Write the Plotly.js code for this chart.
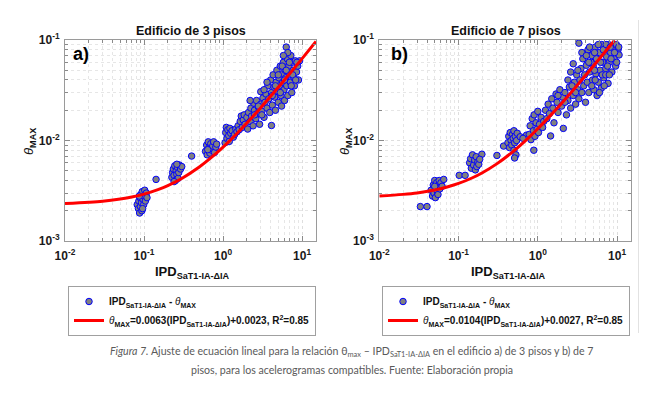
<!DOCTYPE html>
<html>
<head>
<meta charset="utf-8">
<script src="https://cdn.plot.ly/plotly-3.0.1.min.js"></script>
<style>html,body{margin:0;padding:0;background:#fff;}#chart{width:659px;height:398px;}</style>
</head>
<body>
<div id="chart"></div>
<script>
// ---------- DATA ----------
// Panel a) Edificio de 3 pisos : IPD vs theta_MAX
const ipdA = [
  0.082,0.085,0.086,0.088,0.089,0.090,0.091,0.093,0.094,0.095,0.097,0.099,0.100,0.102,0.104,0.107,0.109,0.087,0.096,
  0.142,
  0.225,0.23,0.235,0.24,0.245,0.25,0.255,0.26,0.265,0.27,0.275,0.28,0.29,0.30,0.24,0.26,
  0.40,
  0.60,0.62,0.63,0.65,0.66,0.68,0.70,0.72,0.74,0.76,0.78,0.81,0.83,0.64,
  1.06,1.08,1.10,1.12,1.15,1.18,1.20,1.22,1.25,1.30,1.35,1.40,1.45,1.5,
  1.55,1.6,1.65,1.7,1.75,1.8,1.85,1.9,2.0,2.05,2.1,2.2,2.25,2.3,2.4,2.45,2.5,2.6,2.65,2.7,2.8,2.9,3.0,3.0,3.1,3.2,3.3,3.4,3.5,3.6,
  3.7,3.8,3.9,4.0,4.1,4.1,4.2,4.3,4.4,4.5,4.6,4.7,4.8,4.9,5.0,5.1,5.2,5.3,5.4,5.5,5.6,5.7,5.8,5.9,6.0,6.1,6.2,6.3,6.4,6.5,6.6,6.8,6.8,7.0,7.1,7.2,7.4,7.5,7.7,7.9,8.0,8.2,8.5,8.8,9.0,9.3,11.2,
  3.3,3.6,4.2,4.6,5.0,5.3,5.6,6.0,6.3,6.9,7.3,7.6,8.3,2.5,2.8,3.1,2.2,6.6,5.8,8.6
];
const thetaA = [
  0.0023,0.0021,0.0025,0.0019,0.0027,0.0022,0.0029,0.0024,0.0020,0.0031,0.0026,0.0023,0.0028,0.0032,0.0025,0.0030,0.0027,0.0028,0.0021,
  0.0041,
  0.0043,0.0048,0.0052,0.0045,0.0056,0.0040,0.0050,0.0046,0.0054,0.0042,0.0048,0.0057,0.0052,0.0055,0.0039,0.0058,
  0.0070,
  0.0078,0.0090,0.0072,0.0097,0.0084,0.0075,0.0093,0.0080,0.0088,0.0097,0.0076,0.0086,0.0092,0.0081,
  0.0095,0.0120,0.0135,0.0105,0.0128,0.0112,0.0098,0.0132,0.0118,0.0125,0.0108,0.0115,0.0130,0.0122,
  0.0140,0.0128,0.0155,0.0175,0.0135,0.0160,0.0180,0.0145,0.0170,0.0130,0.0190,0.0155,0.0210,0.0175,0.0140,0.0235,0.0200,0.0165,0.0250,0.0185,0.0215,0.0145,0.0306,0.0230,0.0195,0.0265,0.0170,0.0240,0.0290,0.0210,
  0.0350,0.0260,0.0190,0.0400,0.0141,0.0300,0.0225,0.0450,0.0340,0.0270,0.0200,0.0380,0.0500,0.0310,0.0240,0.0420,0.0350,0.0550,0.0280,0.0220,0.0460,0.0380,0.0600,0.0320,0.0250,0.0500,0.0420,0.0850,0.0350,0.0650,0.0280,0.1000,0.0550,0.0450,0.0380,0.0700,0.0300,0.0600,0.0500,0.0420,0.0350,0.0620,0.0480,0.0550,0.0400,0.0620,0.1000,
  0.0320,0.0380,0.0280,0.0350,0.0450,0.0300,0.0550,0.0400,0.0500,0.0600,0.0350,0.0450,0.0400,0.0180,0.0220,0.0180,0.0250,0.0750,0.0700,0.0600
];
// fitted line a) theta = 0.0063 IPD + 0.0023 (points read along the red curve)
const fitXA = [0.01,0.02,0.03,0.05,0.07,0.1,0.15,0.2,0.3,0.5,0.7,1,1.5,2,3,5,7,10,15];
const fitYA = [0.00236,0.00243,0.00249,0.00262,0.00274,0.00293,0.00325,0.00356,0.00419,0.00545,0.00671,0.0086,0.01175,0.0149,0.0212,0.0338,0.0464,0.0653,0.0968];

// Panel b) Edificio de 7 pisos
const ipdB = [
  0.033,0.040,
  0.045,0.047,0.048,0.049,0.050,0.051,0.052,0.053,0.054,0.055,0.056,0.057,0.058,0.060,0.062,0.065,0.050,
  0.102,0.121,
  0.138,0.142,0.145,0.150,0.155,0.160,0.163,0.167,0.170,0.175,0.180,0.197,0.185,
  0.305,0.37,
  0.42,0.43,0.44,0.45,0.46,0.47,0.48,0.49,0.50,0.50,0.51,0.52,0.53,0.54,0.55,0.51,0.60,0.72,0.65,
  0.78,0.80,0.82,0.85,0.88,0.89,0.90,0.92,0.95,0.98,1.00,1.02,1.05,1.10,1.15,1.19,1.45,
  1.25,1.30,1.35,1.40,1.5,1.55,1.6,1.7,1.75,1.8,1.9,2.0,2.05,2.1,2.2,2.3,2.4,2.5,2.6,2.6,
  2.8,2.8,2.9,3.0,3.1,3.2,3.3,3.3,3.4,3.5,3.6,3.7,3.8,3.9,4.0,4.0,4.1,4.2,4.3,4.4,4.5,4.6,
  4.8,4.9,5.0,5.0,5.1,5.3,5.4,5.5,5.6,5.7,5.8,6.0,6.0,6.1,6.3,6.4,6.5,6.6,6.8,7.0,7.0,7.2,7.4,7.5,7.7,7.8,8.0,8.0,8.3,8.5,8.6,8.8,9.0,9.2,9.5,9.6,10.0,10.3,10.6,10.6,3.8,4.3,
  3.5,4.5,4.7,5.2,5.2,5.5,5.8,6.2,6.5,6.7,6.9,7.3,7.6,8.2,8.4,8.8,9.3,9.8,10.2,5.8,6.8,7.8,9.2,3.2,3.6,4.1,2.4,2.7,3.0,4.8,5.3,6.0,9.9,10.5,7.2,8.0,4.4,2.2,1.8
];
const thetaB = [
  0.0022,0.0022,
  0.0032,0.0028,0.0036,0.0030,0.0040,0.0027,0.0034,0.0038,0.0031,0.0029,0.0036,0.0040,0.0033,0.0038,0.0035,0.0041,0.0035,
  0.0045,0.0045,
  0.0060,0.0066,0.0053,0.0072,0.0057,0.0064,0.0051,0.0069,0.0055,0.0061,0.0058,0.0073,0.0065,
  0.0071,0.0088,
  0.0095,0.0110,0.0085,0.0120,0.0100,0.0090,0.0115,0.0105,0.0125,0.0080,0.0095,0.0110,0.0072,0.0100,0.0118,0.0067,0.0109,0.0113,0.0105,
  0.0115,0.0140,0.0102,0.0165,0.0125,0.0080,0.0180,0.0110,0.0150,0.0130,0.0195,0.0120,0.0145,0.0170,0.0135,0.0155,0.0111,
  0.0200,0.0165,0.0230,0.0185,0.0260,0.0210,0.0150,0.0290,0.0240,0.0190,0.0320,0.0220,0.0270,0.0132,0.0300,0.0180,0.0250,0.0340,0.0210,0.0480,
  0.0580,0.0280,0.0380,0.0230,0.0450,0.0320,0.0930,0.0260,0.0400,0.0520,0.0300,0.0650,0.0350,0.0450,0.1000,0.0240,0.0560,0.0380,0.0800,0.0300,0.0480,0.1000,
  0.0700,0.0400,0.1000,0.0550,0.0320,0.0850,0.0460,0.1000,0.0280,0.0650,0.0380,0.1000,0.0750,0.0500,0.0330,0.0900,0.1000,0.0600,0.0420,0.1000,0.0800,0.0520,0.0680,0.1000,0.0370,0.0900,0.1000,0.0600,0.0750,0.1000,0.0480,0.0850,0.1000,0.0650,0.1000,0.0550,0.1000,0.0800,0.0710,0.1000,0.1000,0.1000,
  0.1000,0.0850,0.0600,0.0750,0.0500,0.0650,0.0900,0.0600,0.0450,0.0800,0.0350,0.0900,0.0550,0.0850,0.0650,0.1000,0.0750,0.0900,0.1000,0.1000,0.1000,0.1000,0.1000,0.0500,0.0750,0.0700,0.0400,0.0350,0.0300,0.0350,0.0400,0.0300,0.0600,0.0850,0.0450,0.0450,0.0600,0.0240,0.0280
];
// fitted line b) theta = 0.0104 IPD + 0.0027
const fitXB = [0.01,0.02,0.03,0.05,0.07,0.1,0.15,0.2,0.3,0.5,0.7,1,1.5,2,3,5,7,9.3];
const fitYB = [0.00280,0.00291,0.00301,0.00322,0.00343,0.00374,0.00426,0.00478,0.00582,0.0079,0.00998,0.0131,0.0183,0.0235,0.0339,0.0547,0.0755,0.0994];

// tick labels
const xTickVals = [0.01,0.1,1,10];
const xTickText = ['10<sup>-2</sup>','10<sup>-1</sup>','10<sup>0</sup>','10<sup>1</sup>'];
const yTickVals = [0.001,0.01,0.1];
const yTickText = ['10<sup>-3</sup>','10<sup>-2</sup>','10<sup>-1</sup>'];

// texts
const titleA = 'Edificio de 3 pisos';
const titleB = 'Edificio de 7 pisos';
const scatterName = '<b>IPD<sub>SaT1-IA-ΔIA</sub> - </b><i>θ</i><b><sub>MAX</sub></b>';
const fitNameA = '<i>θ</i><b><sub>MAX</sub>=0.0063(IPD<sub>SaT1-IA-ΔIA</sub>)+0.0023, R<sup>2</sup>=0.85</b>';
const fitNameB = '<i>θ</i><b><sub>MAX</sub>=0.0104(IPD<sub>SaT1-IA-ΔIA</sub>)+0.0027, R<sup>2</sup>=0.85</b>';
const xTitle = '<b>IPD<sub>SaT1-IA-ΔIA</sub></b>';
const yTitle = '<i>θ</i><b><sub>MAX</sub></b>';
const captionLine1 = '<i>Figura 7.</i> Ajuste de ecuación lineal para la relación θ<sub>max</sub> – IPD<sub>SaT1-IA-ΔIA</sub> en el edificio a) de 3 pisos y b) de 7';
const captionLine2 = 'pisos, para los acelerogramas compatibles. Fuente: Elaboración propia';

// ---------- STYLE ----------
const W = 659, H = 398;
const FONT = 'Liberation Sans, Arial, sans-serif';
const px = v => v / W;
const py = v => 1 - v / H;

const markerStyle = {symbol:'circle', size:6.5, color:'#808080', line:{color:'#0000ff', width:1}};
const lineStyle = {color:'#ff0000', width:3, shape:'spline'};

const minorX = [];
[0.01,0.1,1].forEach(d => { for (let k=2;k<=9;k++) minorX.push(+(d*k).toPrecision(3)); });
const minorY = [];
[0.001,0.01].forEach(d => { for (let k=2;k<=9;k++) minorY.push(+(d*k).toPrecision(3)); });

function xaxisCfg(domain, anchor) {
  return {
    type:'log', domain:domain, anchor:anchor, range:[-2, Math.log10(15)],
    tickmode:'array', tickvals:xTickVals, ticktext:xTickText.map(t=>'<b>'+t+'</b>'),
    ticks:'inside', ticklen:5, tickcolor:'#8a8a8a', tickwidth:1,
    showline:true, linecolor:'#9a9a9a', linewidth:1, mirror:'allticks',
    showgrid:true, gridcolor:'#dedede', griddash:'dot', gridwidth:1,
    minor:{tickmode:'array', tickvals:minorX, ticks:'inside', ticklen:3, tickcolor:'#8a8a8a', showgrid:true, gridcolor:'#e6e6e6', griddash:'dot'},
    tickfont:{family:FONT, size:12, color:'#1a1a1a'}, ticklabelstandoff:4,
    zeroline:false, fixedrange:true
  };
}
function yaxisCfg(domain, anchor) {
  return {
    type:'log', domain:domain, anchor:anchor, range:[-3,-1],
    tickmode:'array', tickvals:yTickVals, ticktext:yTickText.map(t=>'<b>'+t+'</b>'),
    ticks:'inside', ticklen:5, tickcolor:'#8a8a8a', tickwidth:1,
    showline:true, linecolor:'#9a9a9a', linewidth:1, mirror:'allticks',
    showgrid:true, gridcolor:'#dedede', griddash:'dot', gridwidth:1,
    minor:{tickmode:'array', tickvals:minorY, ticks:'inside', ticklen:3, tickcolor:'#8a8a8a', showgrid:true, gridcolor:'#e6e6e6', griddash:'dot'},
    tickfont:{family:FONT, size:12, color:'#1a1a1a'}, ticklabelstandoff:2,
    zeroline:false, fixedrange:true
  };
}

const traces = [
  {x:ipdA, y:thetaA, type:'scatter', mode:'markers', marker:markerStyle, name:scatterName, xaxis:'x', yaxis:'y', legend:'legend', cliponaxis:false},
  {x:fitXA, y:fitYA, type:'scatter', mode:'lines', line:lineStyle, name:fitNameA, xaxis:'x', yaxis:'y', legend:'legend'},
  {x:ipdB, y:thetaB, type:'scatter', mode:'markers', marker:markerStyle, name:scatterName, xaxis:'x2', yaxis:'y2', legend:'legend2', cliponaxis:false},
  {x:fitXB, y:fitYB, type:'scatter', mode:'lines', line:lineStyle, name:fitNameB, xaxis:'x2', yaxis:'y2', legend:'legend2'}
];

const yDom = [1-241/H, 1-40/H];
const legendBase = {
  xanchor:'left', yanchor:'top', bgcolor:'#ffffff', bordercolor:'#a0a0a0', borderwidth:1,
  font:{family:FONT, size:10, color:'#111'}, itemwidth:30, tracegroupgap:0, traceorder:'normal'
};

const capFont = {family:'Lato, Noto Sans, sans-serif', size:10.6, color:'#5a5a5a'};
const annFont = (size, extra) => Object.assign({family:FONT, size:size, color:'#111'}, extra||{});
const annotations = [
  {text:'<b>'+titleA+'</b>', x:px(190.5), y:py(31), xref:'paper', yref:'paper', showarrow:false, font:annFont(12.5), xanchor:'center', yanchor:'middle'},
  {text:'<b>'+titleB+'</b>', x:px(505.5), y:py(31), xref:'paper', yref:'paper', showarrow:false, font:annFont(12.5), xanchor:'center', yanchor:'middle'},
  {text:'<b>a)</b>', x:px(81), y:py(54), xref:'paper', yref:'paper', showarrow:false, font:annFont(18, {color:'#000'}), xanchor:'center', yanchor:'middle'},
  {text:'<b>b)</b>', x:px(399), y:py(54), xref:'paper', yref:'paper', showarrow:false, font:annFont(18, {color:'#000'}), xanchor:'center', yanchor:'middle'},
  {text:xTitle, x:px(192), y:py(272), xref:'paper', yref:'paper', showarrow:false, font:annFont(13), xanchor:'center', yanchor:'middle'},
  {text:xTitle, x:px(508), y:py(272), xref:'paper', yref:'paper', showarrow:false, font:annFont(13), xanchor:'center', yanchor:'middle'},
  {text:yTitle, x:px(29), y:py(142), xref:'paper', yref:'paper', showarrow:false, font:annFont(13), textangle:-90, xanchor:'center', yanchor:'middle'},
  {text:yTitle, x:px(345), y:py(142), xref:'paper', yref:'paper', showarrow:false, font:annFont(13), textangle:-90, xanchor:'center', yanchor:'middle'},
  {text:captionLine1, x:px(352), y:py(352), xref:'paper', yref:'paper', showarrow:false, font:capFont, xanchor:'center', yanchor:'middle'},
  {text:captionLine2, x:px(352), y:py(370), xref:'paper', yref:'paper', showarrow:false, font:capFont, xanchor:'center', yanchor:'middle'}
];

const layout = {
  width:W, height:H, margin:{l:0,r:0,t:0,b:0}, autosize:false,
  paper_bgcolor:'#ffffff', plot_bgcolor:'#ffffff',
  font:{family:FONT, color:'#111'},
  xaxis: xaxisCfg([65/W, 316/W], 'y'),
  yaxis: yaxisCfg(yDom, 'x'),
  xaxis2: xaxisCfg([379.3/W, 631/W], 'y2'),
  yaxis2: yaxisCfg(yDom, 'x2'),
  showlegend:true,
  legend: Object.assign({x:px(68), y:py(286)}, legendBase),
  legend2: Object.assign({x:px(382), y:py(286)}, legendBase),
  annotations:annotations,
  shapes:[{type:'line', xref:'paper', yref:'paper', x0:px(638.5), x1:px(638.5), y0:py(20), y1:py(333), line:{color:'#e2e2e2', width:1}}]
};

Plotly.newPlot('chart', traces, layout, {staticPlot:true, displayModeBar:false});
</script>
</body>
</html>
